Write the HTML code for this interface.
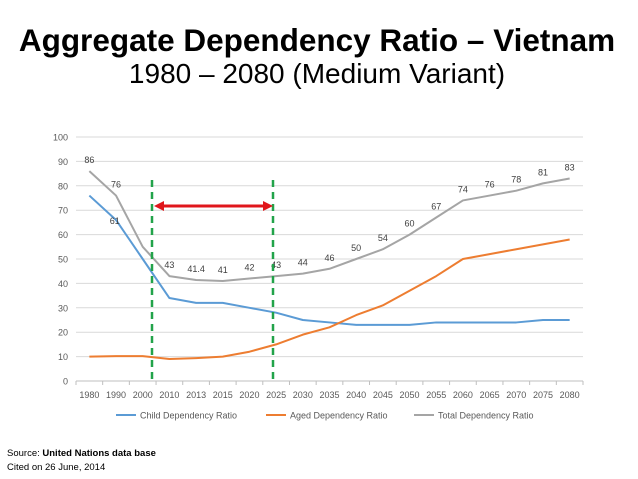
<!DOCTYPE html>
<html><head><meta charset="utf-8"><style>
body{margin:0;background:#fff;font-family:"Liberation Sans",sans-serif}
#wrap{position:relative;width:638px;height:479px;overflow:hidden}
.t{position:absolute;left:0;width:638px;text-align:center;color:#000;white-space:nowrap}
</style></head><body>
<div id="wrap">
<div class="t" style="top:22px;font-size:31.5px;font-weight:bold;left:-2px">Aggregate Dependency Ratio – Vietnam</div>
<div class="t" style="top:58px;font-size:28px;left:-2px">1980 – 2080 (Medium Variant)</div>
<svg id="chart" width="638" height="479" style="position:absolute;left:0;top:0"></svg>
<div style="position:absolute;left:7px;top:447px;font-size:9.5px;line-height:14px">Source: <b>United Nations data base</b><br>Cited on 26 June, 2014</div>
</div>
<script>
const years=["1980","1990","2000","2010","2013","2015","2020","2025","2030","2035","2040","2045","2050","2055","2060","2065","2070","2075","2080"];
const child=[76,66,50,34,32,32,30,28,25,24,23,23,23,24,24,24,24,25,25];
const aged=[10,10.2,10.2,9,9.4,10,12,15,19,22,27,31,37,43,50,52,54,56,58];
const total=[86,76,55,43,41.4,41,42,43,44,46,50,54,60,67,74,76,78,81,83];
const totalLabels=["86","76","61","43","41.4","41","42","43","44","46","50","54","60","67","74","76","78","81","83"];
const yTicks=[0,10,20,30,40,50,60,70,80,90,100];
const NS="http://www.w3.org/2000/svg",svg=document.getElementById('chart');
const X0=76,X1=583,Y0=381,Y1=137;
const bw=(X1-X0)/years.length;
const x=i=>X0+bw*(i+0.5), y=v=>Y0-(v/100)*(Y0-Y1);
function el(t,a,p){const e=document.createElementNS(NS,t);for(const k in a)e.setAttribute(k,a[k]);(p||svg).appendChild(e);return e;}
yTicks.forEach(v=>{
 if(v>0){const g=el('line',{x1:X0,x2:X1,y1:y(v),y2:y(v),stroke:'#d9d9d9','stroke-width':1});
 
 }
 const t=el('text',{x:68,y:y(v)+3.5,'text-anchor':'end','font-size':9,fill:'#595959'});t.textContent=v;
 
 
});
el('line',{x1:X0,x2:X1,y1:Y0,y2:Y0,stroke:'#bfbfbf'});
years.forEach((yr,i)=>{
 el('line',{x1:X0+bw*i,x2:X0+bw*i,y1:Y0,y2:Y0+4,stroke:'#bfbfbf'});
 const t=el('text',{x:x(i),y:398,'text-anchor':'middle','font-size':9,fill:'#595959'});t.textContent=yr;
 
 
});
el('line',{x1:X1,x2:X1,y1:Y0,y2:Y0+4,stroke:'#bfbfbf'});
function series(d,c,name){
 const p=el('polyline',{points:d.map((v,i)=>x(i)+','+y(v)).join(' '),fill:'none',stroke:c,'stroke-width':2,'stroke-linejoin':'round'});
 
 
}
series(child,'#5b9bd5','child-line');
series(aged,'#ed7d31','aged-line');
series(total,'#a5a5a5','total-line');
totalLabels.forEach((l,i)=>{
 const t=el('text',{x:x(i)+(i==2?-28:0),y:y(Math.max(total[i],i==2?61:0))-8,'text-anchor':'middle','font-size':9,fill:'#404040'});t.textContent=l;
 
 
});
[152,273].forEach(gx=>{const g=el('line',{x1:gx,x2:gx,y1:180,y2:381,stroke:'#22a34a','stroke-width':2.5,'stroke-dasharray':'7,5'});
 
 });
const ar=el('g',{});


el('line',{x1:162,x2:265,y1:206,y2:206,stroke:'#e0161b','stroke-width':3},ar);
el('polygon',{points:'154,206 164,201 164,211',fill:'#e0161b'},ar);
el('polygon',{points:'273,206 263,201 263,211',fill:'#e0161b'},ar);
[['Child Dependency Ratio','#5b9bd5',116],['Aged Dependency Ratio','#ed7d31',266],['Total Dependency Ratio','#a5a5a5',414]].forEach(([n,c,lx])=>{
 const g=el('g',{});
 
 
 el('line',{x1:lx,x2:lx+20,y1:415,y2:415,stroke:c,'stroke-width':2},g);
 const t=el('text',{x:lx+24,y:418.5,'font-size':9,fill:'#595959'},g);t.textContent=n;
});
</script>
</body></html>
